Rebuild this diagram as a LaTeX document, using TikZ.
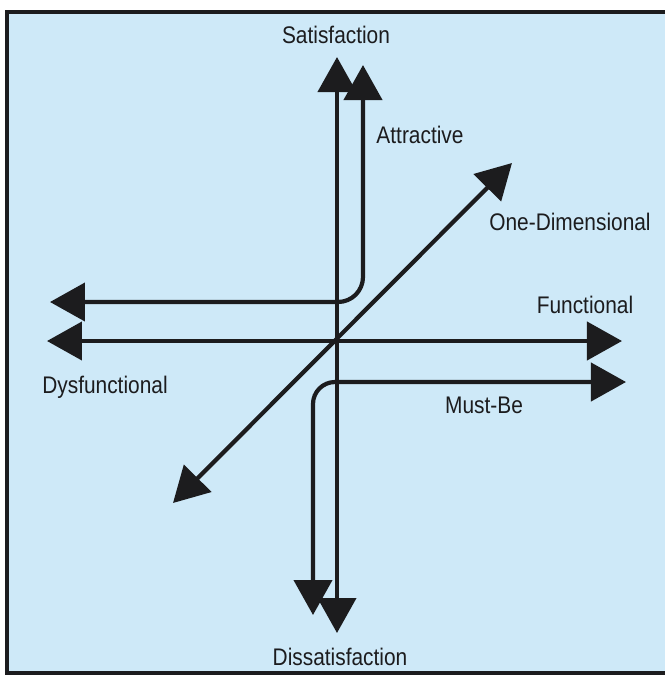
\documentclass[tikz,border=0pt]{standalone}
\usepackage{fontspec}
\setmainfont{Liberation Sans}[FakeStretch=0.87]
\usetikzlibrary{arrows.meta}
\definecolor{panel}{RGB}{206,233,248}
\definecolor{ink}{RGB}{28,28,30}
\begin{document}
\begin{tikzpicture}[x=0.5pt, y=-0.5pt, font=\fontsize{12}{14}\selectfont]
    \tikzstyle{both} = [draw=ink, line width=2.1pt, {Triangle[length=17.5pt,width=19pt]}-{Triangle[length=17.5pt,width=19pt]}]
    \tikzstyle{tag} = [text=ink, inner sep=0pt]

    \useasboundingbox (0,0) rectangle (665,677);
    \fill [white] (0,0) rectangle (665,677);
    \begin{scope}
        \clip (0,0) rectangle (665,677);
        \draw [ink, line width=2.2pt, fill=panel] (7,12) rectangle (675,673);
    \end{scope}

    \coordinate (sat) at (337,57);
    \coordinate (dis) at (337,633);
    \coordinate (fun) at (622,341);
    \coordinate (dys) at (47,341);
    \coordinate (att) at (363,65);
    \coordinate (attl) at (50,302);
    \coordinate (must) at (626,382);
    \coordinate (mustd) at (313,615);
    \coordinate (onehi) at (512,163);
    \coordinate (onelo) at (173,503);

    \draw [both] (dis) -- (sat);
    \draw [both] (dys) -- (fun);
    \draw [both] (onelo) -- (onehi);
    \draw [both, rounded corners=12.5pt] (attl) -| (att);
    \draw [both, rounded corners=11pt] (must) -| (mustd);

    \node [tag] (satisfaction) at (336,35) {Satisfaction};
    \node [tag] (attractive) at (420,135) {Attractive};
    \node [tag] (onedim) at (570,222) {One-Dimensional};
    \node [tag] (functional) at (585,305) {Functional};
    \node [tag] (mustbe) at (484,405) {Must-Be};
    \node [tag] (dysfunctional) at (105,387) {Dysfunctional};
    \node [tag] (dissatisfaction) at (340,657) {Dissatisfaction};
\end{tikzpicture}
\end{document}
